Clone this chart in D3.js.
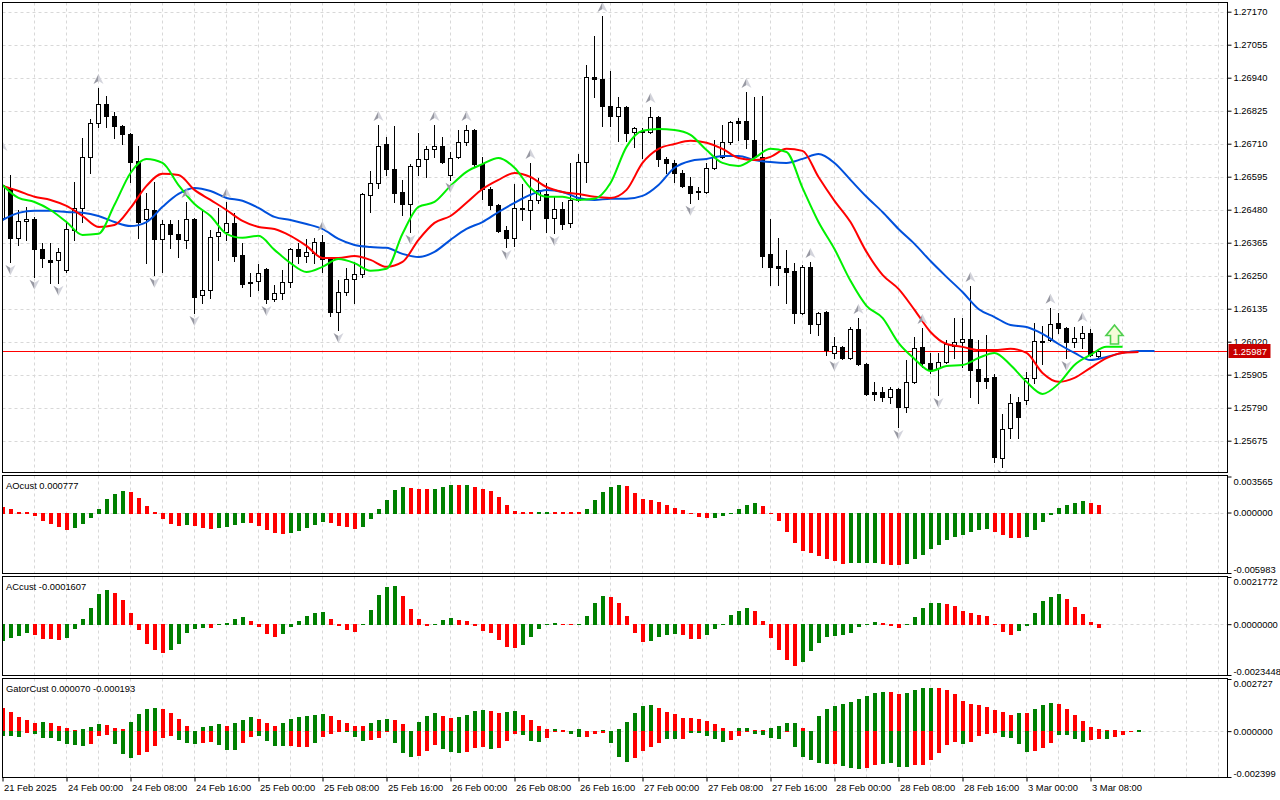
<!DOCTYPE html>
<html>
<head>
<meta charset="utf-8">
<title>H1 chart with Alligator, AO, AC, Gator</title>
<script src="https://cdn.jsdelivr.net/npm/d3@7/dist/d3.min.js"></script>
<style>
html,body{margin:0;padding:0;background:#ffffff;}
svg{display:block;}
svg text{font-family:"Liberation Sans",Arial,sans-serif;font-size:9.4px;fill:#000;}
</style>
</head>
<body>
<svg id="chart" width="1280" height="800"></svg>
<script>
// ================= DATA =================
const timeLabels = ["21 Feb 2025","24 Feb 00:00","24 Feb 08:00","24 Feb 16:00","25 Feb 00:00","25 Feb 08:00","25 Feb 16:00","26 Feb 00:00","26 Feb 08:00","26 Feb 16:00","27 Feb 00:00","27 Feb 08:00","27 Feb 16:00","28 Feb 00:00","28 Feb 08:00","28 Feb 16:00","3 Mar 00:00","3 Mar 08:00"];
const timeLabelBars = [0,8,16,24,32,40,48,56,64,72,80,88,96,104,112,120,128,136];
const priceTicks = [1.27170,1.27055,1.26940,1.26825,1.26710,1.26595,1.26480,1.26365,1.26250,1.26135,1.26020,1.25905,1.25790,1.25675];
const currentPrice = 1.25987;

const open = [1.26451,1.26556,1.26382,1.26441,1.26448,1.26343,1.26305,1.26305,1.26270,1.26410,
1.26486,1.26664,1.26782,1.26849,1.26807,1.26772,1.26744,1.26650,1.26448,1.26479,
1.26378,1.26430,1.26396,1.26375,1.26448,1.26183,1.26200,1.26389,1.26403,1.26434,
1.26322,1.26228,1.26232,1.26274,1.26169,1.26190,1.26228,1.26343,1.26319,1.26329,
1.26368,1.26312,1.26124,1.26193,1.26239,1.26256,1.26532,1.26573,1.26709,1.26622,
1.26542,1.26500,1.26633,1.26657,1.26692,1.26702,1.26601,1.26664,1.26716,1.26758,
1.26640,1.26552,1.26497,1.26410,1.26382,1.26486,1.26479,1.26514,1.26535,1.26451,
1.26483,1.26434,1.26514,1.26646,1.26943,1.26936,1.26842,1.26807,1.26838,1.26751,
1.26754,1.26751,1.26803,1.26657,1.26643,1.26608,1.26563,1.26545,1.26542,1.26626,
1.26664,1.26716,1.26789,1.26789,1.26723,1.26664,1.26326,1.26284,1.26277,1.26267,
1.26120,1.26280,1.26082,1.26124,1.25981,1.26002,1.25963,1.26065,1.25943,1.25845,
1.25845,1.25827,1.25855,1.25793,1.25880,1.26002,1.25946,1.25929,1.25950,1.26005,
1.26019,1.26030,1.25925,1.25894,1.25897,1.25615,1.25720,1.25810,1.25817,1.25894,
1.26019,1.26026,1.26085,1.26068,1.26019,1.26033,1.26050,1.25970];
const high = [1.26671,1.26601,1.26479,1.26490,1.26455,1.26364,1.26364,1.26347,1.26437,1.26577,
1.26730,1.26796,1.26904,1.26876,1.26821,1.26775,1.26748,1.26702,1.26538,1.26577,
1.26444,1.26444,1.26444,1.26507,1.26451,1.26476,1.26410,1.26486,1.26507,1.26469,
1.26364,1.26260,1.26291,1.26277,1.26218,1.26270,1.26347,1.26364,1.26378,1.26382,
1.26392,1.26315,1.26235,1.26277,1.26298,1.26538,1.26615,1.26775,1.26734,1.26772,
1.26584,1.26640,1.26748,1.26702,1.26775,1.26734,1.26681,1.26758,1.26775,1.26762,
1.26664,1.26559,1.26500,1.26423,1.26570,1.26570,1.26643,1.26591,1.26573,1.26528,
1.26507,1.26643,1.26674,1.26985,1.27086,1.27155,1.26964,1.26873,1.26842,1.26768,
1.26765,1.26838,1.26807,1.26664,1.26653,1.26619,1.26594,1.26559,1.26643,1.26723,
1.26775,1.26789,1.26800,1.26890,1.26873,1.26876,1.26448,1.26382,1.26340,1.26294,
1.26288,1.26298,1.26124,1.26127,1.26037,1.26005,1.26071,1.26103,1.25946,1.25880,
1.25862,1.25862,1.25859,1.25956,1.26037,1.26068,1.25981,1.25981,1.26026,1.26103,
1.26103,1.26214,1.26026,1.26044,1.25908,1.25768,1.25838,1.25827,1.25915,1.26085,
1.26075,1.26138,1.26120,1.26071,1.26071,1.26075,1.26065,1.25995];
const low = [1.26444,1.26298,1.26357,1.26375,1.26246,1.26280,1.26225,1.26225,1.26263,1.26375,
1.26437,1.26608,1.26768,1.26768,1.26730,1.26709,1.26577,1.26382,1.26294,1.26253,
1.26263,1.26347,1.26315,1.26347,1.26120,1.26155,1.26172,1.26305,1.26375,1.26301,
1.26211,1.26180,1.26200,1.26155,1.26162,1.26169,1.26211,1.26294,1.26298,1.26294,
1.26263,1.26110,1.26061,1.26183,1.26155,1.26246,1.26472,1.26556,1.26601,1.26507,
1.26462,1.26403,1.26601,1.26594,1.26664,1.26643,1.26584,1.26660,1.26706,1.26629,
1.26518,1.26483,1.26403,1.26350,1.26354,1.26444,1.26413,1.26504,1.26403,1.26399,
1.26413,1.26420,1.26511,1.26577,1.26873,1.26772,1.26772,1.26720,1.26720,1.26699,
1.26660,1.26748,1.26633,1.26608,1.26577,1.26559,1.26504,1.26518,1.26538,1.26622,
1.26660,1.26709,1.26723,1.26695,1.26660,1.26280,1.26218,1.26218,1.26155,1.26085,
1.26117,1.26050,1.26044,1.25974,1.25963,1.25960,1.25960,1.25939,1.25834,1.25817,
1.25814,1.25807,1.25723,1.25775,1.25876,1.25932,1.25911,1.25834,1.25946,1.25963,
1.25932,1.25827,1.25807,1.25859,1.25601,1.25584,1.25685,1.25685,1.25803,1.25876,
1.25943,1.26023,1.26050,1.25963,1.26002,1.25998,1.25970,1.25967];
const close = [1.26566,1.26382,1.26441,1.26448,1.26343,1.26312,1.26298,1.26333,1.26413,1.26486,
1.26664,1.26782,1.26849,1.26807,1.26772,1.26744,1.26646,1.26437,1.26483,1.26378,
1.26430,1.26396,1.26378,1.26448,1.26176,1.26200,1.26385,1.26403,1.26434,1.26319,
1.26221,1.26225,1.26260,1.26169,1.26190,1.26228,1.26343,1.26319,1.26333,1.26368,
1.26308,1.26124,1.26193,1.26239,1.26256,1.26535,1.26573,1.26702,1.26622,1.26538,
1.26500,1.26633,1.26657,1.26692,1.26702,1.26646,1.26660,1.26716,1.26758,1.26640,
1.26552,1.26497,1.26406,1.26382,1.26486,1.26483,1.26514,1.26549,1.26451,1.26483,
1.26430,1.26514,1.26646,1.26943,1.26936,1.26842,1.26807,1.26838,1.26748,1.26765,
1.26751,1.26803,1.26657,1.26643,1.26608,1.26563,1.26538,1.26542,1.26626,1.26664,
1.26716,1.26786,1.26782,1.26727,1.26664,1.26319,1.26280,1.26277,1.26263,1.26120,
1.26280,1.26082,1.26120,1.25991,1.26005,1.25963,1.26065,1.25943,1.25838,1.25838,
1.25827,1.25855,1.25793,1.25880,1.25998,1.25946,1.25925,1.25950,1.26012,1.26019,
1.26030,1.25922,1.25883,1.25883,1.25618,1.25716,1.25807,1.25758,1.25894,1.26023,
1.26023,1.26082,1.26068,1.26019,1.26033,1.26050,1.25974,1.25987];

// Alligator lines, one value every 2 bars (bar 0, 2, 4, ...), shifted forward past the last bar
const jaw = [1.26444,1.26469,1.26476,1.26476,1.26472,1.26469,1.26458,1.26437,1.26423,1.26437,
1.26490,1.26535,1.26556,1.26545,1.26521,1.26511,1.26486,1.26455,1.26444,1.26430,
1.26413,1.26378,1.26357,1.26350,1.26347,1.26326,1.26315,1.26333,1.26375,1.26413,
1.26437,1.26472,1.26504,1.26532,1.26549,1.26542,1.26521,1.26514,1.26518,1.26518,
1.26528,1.26566,1.26626,1.26650,1.26657,1.26667,1.26667,1.26653,1.26646,1.26643,
1.26657,1.26674,1.26643,1.26584,1.26525,1.26472,1.26413,1.26361,1.26301,1.26246,
1.26193,1.26134,1.26106,1.26078,1.26071,1.26047,1.26012,1.25981,1.25956,1.25967,
1.25981,1.25988,1.25988];
const teeth = [1.26563,1.26545,1.26525,1.26514,1.26493,1.26458,1.26420,1.26427,1.26486,1.26563,
1.26605,1.26601,1.26549,1.26514,1.26479,1.26441,1.26420,1.26413,1.26389,1.26354,
1.26312,1.26312,1.26319,1.26305,1.26281,1.26298,1.26375,1.26434,1.26458,1.26504,
1.26552,1.26584,1.26608,1.26594,1.26559,1.26542,1.26535,1.26525,1.26521,1.26549,
1.26643,1.26692,1.26709,1.26720,1.26713,1.26692,1.26660,1.26653,1.26664,1.26692,
1.26685,1.26594,1.26511,1.26437,1.26333,1.26253,1.26204,1.26131,1.26054,1.26012,
1.26002,1.25991,1.25991,1.25995,1.25981,1.25911,1.25880,1.25894,1.25929,1.25963,
1.25981,1.25984];
const lips = [1.26566,1.26521,1.26507,1.26479,1.26437,1.26392,1.26396,1.26497,1.26608,1.26657,
1.26643,1.26566,1.26500,1.26458,1.26396,1.26382,1.26389,1.26340,1.26294,1.26263,
1.26281,1.26308,1.26294,1.26267,1.26274,1.26396,1.26490,1.26507,1.26563,1.26612,
1.26639,1.26660,1.26626,1.26556,1.26525,1.26525,1.26514,1.26518,1.26573,1.26699,
1.26755,1.26761,1.26758,1.26741,1.26688,1.26643,1.26632,1.26660,1.26692,1.26681,
1.26556,1.26437,1.26343,1.26232,1.26145,1.26103,1.26016,1.25960,1.25918,1.25935,
1.25939,1.25963,1.25981,1.25939,1.25880,1.25838,1.25873,1.25939,1.25974,1.26002,
1.26002];

const fractalUp = [0,12,23,28,40,47,54,58,66,75,81,93,101,107,115,121,131,135];
const fractalDown = [1,4,7,19,24,33,42,51,56,63,69,86,104,112,117,125,133];
const signalBar = 139, signalPrice = 1.26045;

// Awesome Oscillator
const ao = [0.00056,0.00039,0.00010,0.00003,-0.00036,-0.00085,-0.00118,-0.00144,-0.00173,-0.00154,
-0.00118,-0.00059,0.00039,0.00131,0.00183,0.00216,0.00206,0.00144,0.00069,0.00002,
-0.00065,-0.00118,-0.00137,-0.00124,-0.00137,-0.00157,-0.00160,-0.00150,-0.00141,-0.00128,
-0.00105,-0.00108,-0.00134,-0.00170,-0.00203,-0.00213,-0.00203,-0.00180,-0.00154,-0.00124,
-0.00095,-0.00105,-0.00137,-0.00147,-0.00160,-0.00144,-0.00065,0.00039,0.00128,0.00219,
0.00252,0.00245,0.00235,0.00232,0.00235,0.00255,0.00275,0.00274,0.00276,0.00252,
0.00232,0.00216,0.00157,0.00078,0.00020,0.00006,0.00004,0.00005,0.00006,0.00005,
0.00003,0.00003,0.00002,0.00039,0.00128,0.00206,0.00255,0.00275,0.00265,0.00196,
0.00137,0.00124,0.00108,0.00078,0.00049,0.00029,-0.00016,-0.00046,-0.00056,-0.00052,
-0.00033,-0.00010,0.00039,0.00078,0.00098,0.00069,-0.00010,-0.00085,-0.00193,-0.00301,
-0.00379,-0.00396,-0.00428,-0.00455,-0.00477,-0.00507,-0.00503,-0.00500,-0.00498,-0.00495,
-0.00507,-0.00517,-0.00523,-0.00513,-0.00464,-0.00419,-0.00360,-0.00320,-0.00275,-0.00239,
-0.00222,-0.00196,-0.00170,-0.00164,-0.00193,-0.00222,-0.00249,-0.00252,-0.00239,-0.00170,
-0.00095,-0.00026,0.00049,0.00075,0.00098,0.00111,0.00098,0.000777];
const aoDir = ["rrrrrrrrr","ggggggg","rrrrrrr","g","rrr","gggg","rrrrr","ggggg","rrrr","gggggg",
"rrr","ggg","r","g","rrrrrrrr","gg","rrrr","ggggg","rrrrrrrrrrr","gggggg","rrrrrrrrrrr","gggg",
"rrr","ggggggggggg","rrrr","gggggggg","rr"].join("");

// Accelerator Oscillator
const ac = [-0.00076,-0.00062,-0.00053,-0.00041,-0.00050,-0.00067,-0.00068,-0.00071,-0.00062,-0.00021,
0.00024,0.00074,0.00137,0.00159,0.00146,0.00111,0.00050,-0.00026,-0.00090,-0.00121,
-0.00135,-0.00121,-0.00090,-0.00039,-0.00021,-0.00017,-0.00018,-0.00003,0.00005,0.00024,
0.00033,0.00014,-0.00012,-0.00044,-0.00058,-0.00044,-0.00012,0.00014,0.00038,0.00050,
0.00056,0.00024,-0.00008,-0.00026,-0.00035,0.00003,0.00065,0.00134,0.00170,0.00177,
0.00132,0.00070,0.00024,-0.00008,-0.00003,0.00018,0.00029,0.00018,0.00014,-0.00008,
-0.00030,-0.00039,-0.00071,-0.00103,-0.00112,-0.00094,-0.00058,-0.00021,0.00003,0.00004,
-0.00003,-0.00006,0.00002,0.00036,0.00096,0.00132,0.00127,0.00096,0.00036,-0.00039,
-0.00080,-0.00076,-0.00058,-0.00049,-0.00044,-0.00049,-0.00067,-0.00068,-0.00049,-0.00021,
0.00003,0.00041,0.00059,0.00073,0.00059,0.00014,-0.00062,-0.00117,-0.00167,-0.00194,
-0.00176,-0.00126,-0.00085,-0.00061,-0.00053,-0.00052,-0.00039,-0.00012,0.00002,0.00009,
0.00005,-0.00008,-0.00017,0.00002,0.00032,0.00073,0.00096,0.00097,0.00091,0.00082,
0.00059,0.00050,0.00041,0.00036,0.00002,-0.00035,-0.00049,-0.00030,-0.00008,0.00050,
0.00105,0.00127,0.00141,0.00114,0.00077,0.00046,0.00009,-0.0001607];
const acDir = ["gggg","rrrr","gggggg","rrrrrrr","ggggg","r","gggg","rrrr","gggggg","rrrr",
"ggggg","rrrr","ggg","rrrrrrrr","ggggg","rr","gggg","rrrrr","gggg","rrr","gggggg","rrrrrr",
"gggggggggg","rrr","ggggg","rrrrrrrrr","gggggg","rrrrr"].join("");

// Gator Oscillator (upper = |jaw-teeth|, lower = -|teeth-lips|)
const gatorUp = [0.00123,0.00098,0.00076,0.00057,0.00045,0.00047,0.00040,0.00029,0.00014,0.00004,
0.00009,0.00024,0.00035,0.00034,0.00014,0.00013,0.00050,0.00091,0.00117,0.00123,
0.00117,0.00097,0.00066,0.00029,0.00003,0.00024,0.00029,0.00035,0.00029,0.00045,
0.00060,0.00076,0.00066,0.00040,0.00029,0.00045,0.00066,0.00076,0.00081,0.00086,
0.00091,0.00081,0.00060,0.00045,0.00029,0.00028,0.00040,0.00060,0.00061,0.00060,
0.00035,0.00002,0.00050,0.00081,0.00097,0.00081,0.00071,0.00076,0.00086,0.00107,
0.00108,0.00107,0.00097,0.00102,0.00107,0.00086,0.00060,0.00029,0.00009,0.00010,
0.00005,0.00003,0.00009,0.00003,0.00002,0.00007,0.00002,0.00010,0.00047,0.00097,
0.00133,0.00138,0.00123,0.00102,0.00091,0.00071,0.00070,0.00066,0.00055,0.00035,
0.00014,0.00003,0.00014,0.00015,0.00005,0.00004,0.00019,0.00029,0.00040,0.00041,
0.00019,0.00002,0.00081,0.00117,0.00133,0.00143,0.00154,0.00169,0.00185,0.00200,
0.00205,0.00204,0.00195,0.00200,0.00216,0.00226,0.00227,0.00226,0.00216,0.00195,
0.00159,0.00143,0.00138,0.00128,0.00112,0.00102,0.00086,0.00097,0.00093,0.00117,
0.00138,0.00148,0.00143,0.00117,0.00086,0.00055,0.00024,0.00010,0.00005,0.00004,
0.00003,0.00002,0.00007];
const gatorUpDir = ["rrrrr","g","rrrr","ggg","rrr","gggg","rrrrr","ggg","r","ggg","rrr","gggggg",
"rrrrr","ggg","rrr","ggg","rr","gggg","rr","gg","rrrr","g","rr","g","rr","g","r","ggggg",
"rrrrrrrrrr","gg","rr","gggg","rr","ggggggggg","rr","gggg","rrrrrrrrrr","g","r","ggg",
"rrrrrrrrrr","g"].join("");
const gatorDown = [-0.00028,-0.00028,-0.00031,-0.00010,-0.00017,-0.00036,-0.00037,-0.00052,-0.00067,-0.00072,
-0.00078,-0.00067,-0.00026,-0.00021,-0.00067,-0.00119,-0.00140,-0.00124,-0.00109,-0.00078,
-0.00036,-0.00026,-0.00047,-0.00062,-0.00067,-0.00062,-0.00057,-0.00072,-0.00098,-0.00099,
-0.00062,-0.00031,-0.00026,-0.00052,-0.00078,-0.00079,-0.00078,-0.00083,-0.00083,-0.00062,
-0.00031,-0.00016,-0.00003,-0.00004,-0.00031,-0.00052,-0.00047,-0.00036,-0.00005,-0.00062,
-0.00114,-0.00135,-0.00129,-0.00104,-0.00072,-0.00093,-0.00109,-0.00114,-0.00109,-0.00088,
-0.00083,-0.00093,-0.00088,-0.00052,-0.00016,-0.00021,-0.00052,-0.00057,-0.00036,-0.00007,
-0.00005,-0.00016,-0.00031,-0.00031,-0.00014,-0.00010,-0.00062,-0.00135,-0.00161,-0.00140,
-0.00104,-0.00083,-0.00062,-0.00041,-0.00041,-0.00041,-0.00010,-0.00009,-0.00026,-0.00041,
-0.00057,-0.00047,-0.00026,-0.00007,-0.00016,-0.00021,-0.00036,-0.00040,-0.00005,-0.00083,
-0.00135,-0.00150,-0.00166,-0.00171,-0.00170,-0.00181,-0.00192,-0.00197,-0.00192,-0.00176,
-0.00171,-0.00166,-0.00186,-0.00186,-0.00176,-0.00176,-0.00150,-0.00114,-0.00072,-0.00057,
-0.00067,-0.00057,-0.00026,-0.00016,-0.00010,-0.00031,-0.00036,-0.00067,-0.00109,-0.00104,
-0.00088,-0.00062,-0.00021,-0.00021,-0.00041,-0.00057,-0.00045,-0.00041,-0.00041,-0.00031,
-0.00021];
const gatorDownDir = ["ggg","r","ggggggg","rrr","ggg","rrrrr","ggg","rr","ggg","rr","gggg",
"rrr","g","rrr","ggg","rrr","ggg","rrr","ggg","rrr","g","rrr","ggg","rrr","gg","rrr","ggg",
"rrrr","gg","r","ggggg","rrr","gggg","r","ggggg","r","ggg","rr","gggg","rrrrrr","g","rrrr",
"gggg","rrr","gggg","rr","g","rr"].join("");

const aoAxis = [0.003565, 0, -0.005983];
const acAxis = [0.0021772, 0, -0.0023448];
const gatorAxis = [0.002727, 0, -0.002399];
const gatorTitleValues = [0.000070, -0.000193];

// ================= DRAWING =================
const svg = d3.select("#chart");
const PL = 2.5, PR = 1227.5;
const panels = {
  main:  {t: 2.5,   b: 472.5},
  ao:    {t: 475.5, b: 573.5},
  ac:    {t: 576.5, b: 675.5},
  gator: {t: 678.5, b: 777.5}
};
const GREEN = "#008000", RED = "#ff0000", GRID = "#d8d8d8";
const crisp = v => Math.round(v) + 0.5;

const x = d3.scaleLinear().domain([0, 153]).range([2.5, 1226.5]);
const yMain = d3.scaleLinear().domain([priceTicks[priceTicks.length - 1], priceTicks[0]]).range([440.7, 11.7]);
const yAO = d3.scaleLinear().domain([aoAxis[2], aoAxis[0]]).range([573, 476.5]);
const yAC = d3.scaleLinear().domain([acAxis[2], acAxis[0]]).range([675, 577]);
const yG = d3.scaleLinear().domain([gatorAxis[2], gatorAxis[0]]).range([777, 679]);

const defs = svg.append("defs");
const layer = {};
const gridBars = d3.range(4, 154, 4);
for (const [k, p] of Object.entries(panels)) {
  defs.append("clipPath").attr("id", "clip-" + k).append("rect")
    .attr("x", PL + 0.5).attr("y", p.t + 0.5).attr("width", PR - PL - 1).attr("height", p.b - p.t - 1);
  const g = svg.append("g").attr("clip-path", `url(#clip-${k})`);
  g.append("g").selectAll("line").data(gridBars).join("line")
    .attr("x1", d => x(d)).attr("x2", d => x(d)).attr("y1", p.t).attr("y2", p.b)
    .attr("stroke", GRID).attr("stroke-dasharray", "3,3");
  layer[k] = g;
}

// main horizontal grid
layer.main.append("g").selectAll("line").data(priceTicks).join("line")
  .attr("x1", PL).attr("x2", PR).attr("y1", d => crisp(yMain(d))).attr("y2", d => crisp(yMain(d)))
  .attr("stroke", GRID).attr("stroke-dasharray", "3,3");

// sub-window zero lines
[["ao", yAO], ["ac", yAC], ["gator", yG]].forEach(([k, s]) => {
  layer[k].append("line").attr("x1", PL).attr("x2", PR)
    .attr("y1", crisp(s(0))).attr("y2", crisp(s(0)))
    .attr("stroke", GRID).attr("stroke-dasharray", "3,3");
});

// current price line (drawn behind candles)
const cpY = crisp(yMain(currentPrice));
layer.main.append("line").attr("x1", PL).attr("x2", PR).attr("y1", cpY).attr("y2", cpY)
  .attr("stroke", "#ff0000").attr("stroke-width", 1);

// candles
const bars = d3.range(open.length);
const cg = layer.main.append("g");
cg.selectAll("line").data(bars).join("line")
  .attr("x1", i => x(i)).attr("x2", i => x(i))
  .attr("y1", i => Math.round(yMain(high[i])))
  .attr("y2", i => Math.round(yMain(low[i])) + 1)
  .attr("stroke", "#000");
cg.selectAll("rect").data(bars).join("rect")
  .attr("x", i => x(i) - 2).attr("width", 4)
  .attr("y", i => crisp(yMain(Math.max(open[i], close[i]))))
  .attr("height", i => Math.max(1, crisp(yMain(Math.min(open[i], close[i]))) - crisp(yMain(Math.max(open[i], close[i])))))
  .attr("fill", i => close[i] >= open[i] ? "#ffffff" : "#000000")
  .attr("stroke", "#000");

// alligator
const lineGen = d3.line().x((d, k) => x(k * 2)).y(d => yMain(d)).curve(d3.curveMonotoneX);
[[jaw, "#0050dc"], [teeth, "#ff0000"], [lips, "#00f000"]].forEach(([arr, c]) => {
  layer.main.append("path").attr("d", lineGen(arr)).attr("fill", "none")
    .attr("stroke", c).attr("stroke-width", 2).attr("stroke-linejoin", "round");
});

// fractals
const fg = layer.main.append("g");
const fu = fg.selectAll("g.up").data(fractalUp).join("g").attr("class", "up")
  .attr("transform", i => `translate(${x(i)},${yMain(high[i]) - 9})`);
fu.append("path").attr("d", "M0,-5L-5,5L0,2Z").attr("fill", "#9899a3");
fu.append("path").attr("d", "M0,-5L5,5L0,2Z").attr("fill", "#d3d4dc");
const fd = fg.selectAll("g.dn").data(fractalDown).join("g").attr("class", "dn")
  .attr("transform", i => `translate(${x(i)},${yMain(low[i]) + 8})`);
fd.append("path").attr("d", "M0,5L-5,-5L0,-2Z").attr("fill", "#9899a3");
fd.append("path").attr("d", "M0,5L5,-5L0,-2Z").attr("fill", "#d3d4dc");

// signal arrow
{
  const cx = x(signalBar), cy = yMain(signalPrice);
  const pts = [[0,-9.5],[8.5,1],[4,1],[4,9.5],[-4,9.5],[-4,1],[-8.5,1]].map(([a,b]) => [cx + a, cy + b]);
  layer.main.append("path").attr("d", "M" + pts.join("L") + "Z")
    .attr("fill", "#f6fbd8").attr("stroke", "#4fcf4f").attr("stroke-width", 1.6);
}

// histograms
function hist(g, vals, dirs, y) {
  const z = Math.round(y(0));
  g.append("g").selectAll("rect").data(vals).join("rect")
    .attr("x", (d, i) => x(i) - 1.5).attr("width", 4)
    .attr("y", d => d >= 0 ? Math.min(z, Math.round(y(d))) : z)
    .attr("height", d => d >= 0 ? Math.max(1, z + 1 - Math.round(y(d))) : Math.max(1, Math.round(y(d)) - z))
    .attr("fill", (d, i) => dirs[i] === "g" ? GREEN : RED);
}
hist(layer.ao, ao, aoDir, yAO);
hist(layer.ac, ac, acDir, yAC);
hist(layer.gator, gatorUp, gatorUpDir, yG);
hist(layer.gator, gatorDown, gatorDownDir, yG);

// panel borders
for (const p of Object.values(panels)) {
  svg.append("rect").attr("x", PL).attr("y", p.t).attr("width", PR - PL).attr("height", p.b - p.t)
    .attr("fill", "none").attr("stroke", "#000");
}

// price axis
const gMainAx = svg.append("g").attr("transform", `translate(${PR},0)`)
  .call(d3.axisRight(yMain).tickValues(priceTicks).tickFormat(d => d.toFixed(5)).tickSize(4).tickPadding(2));
gMainAx.select(".domain").remove();

// current price label
svg.append("rect").attr("x", PR + 1).attr("y", cpY - 7.5).attr("width", 42).attr("height", 14).attr("fill", "#c80000");
svg.append("text").attr("x", PR + 5.5).attr("y", cpY + 3.5).text(currentPrice.toFixed(5)).style("fill", "#ffffff");

// sub-window axes
function subAxis(scale, vals, dec) {
  const g = svg.append("g").attr("transform", `translate(${PR},0)`)
    .call(d3.axisRight(scale).tickValues(vals).tickFormat(d => d.toFixed(dec)).tickSize(4).tickPadding(2));
  g.select(".domain").remove();
  g.selectAll(".tick text").attr("y", (d, i) => i === 0 ? 4.5 : (i === vals.length - 1 ? -4 : 0));
}
subAxis(yAO, aoAxis, 6);
subAxis(yAC, acAxis, 7);
subAxis(yG, gatorAxis, 6);

// time axis
const gT = svg.append("g").attr("transform", `translate(0,${panels.gator.b})`)
  .call(d3.axisBottom(x).tickValues(timeLabelBars).tickFormat((d, i) => timeLabels[i]).tickSize(4).tickPadding(3));
gT.select(".domain").remove();
gT.selectAll(".tick text").attr("text-anchor", "start").attr("x", 1);

// sub-window titles
svg.append("text").attr("x", 6).attr("y", 488.5).text("AOcust " + ao[ao.length - 1].toFixed(6));
svg.append("text").attr("x", 6).attr("y", 589.5).text("ACcust " + ac[ac.length - 1].toFixed(7));
svg.append("text").attr("x", 6).attr("y", 692).text("GatorCust " + gatorTitleValues[0].toFixed(6) + " " + gatorTitleValues[1].toFixed(6));
</script>
</body>
</html>
